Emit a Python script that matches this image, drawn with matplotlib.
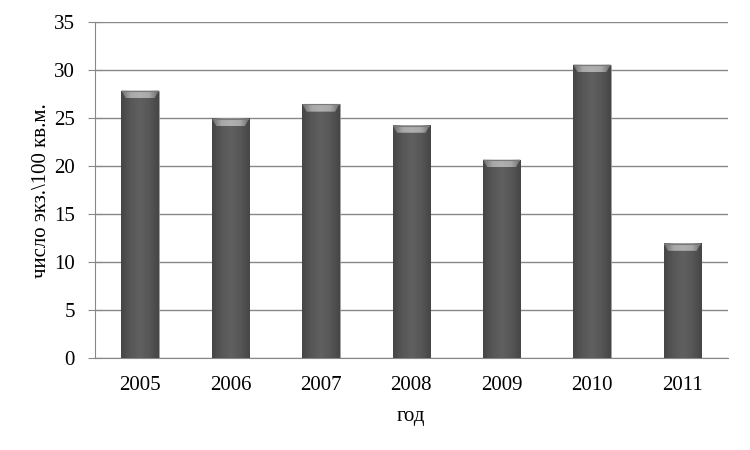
import numpy as np
import matplotlib
matplotlib.use("Agg")
import matplotlib.pyplot as plt
from matplotlib.colors import LinearSegmentedColormap
from matplotlib.patches import Polygon

years = ["2005", "2006", "2007", "2008", "2009", "2010", "2011"]
density = [27.9, 25.0, 26.5, 24.3, 20.7, 30.6, 12.0]

plt.rcParams['font.family'] = ['Liberation Serif', 'DejaVu Serif']

fig = plt.figure(figsize=(7.5, 4.5), dpi=100)
ax = fig.add_axes([0.1267, 0.2037, 0.8433, 0.7466])

x = np.arange(len(years))
bw = 0.415
bars = ax.bar(x, density, width=bw, color='#585858', edgecolor='#a0a0a0', lw=0.5, zorder=2)

# horizontal shading across each bar: darker edges, lighter middle
shade = LinearSegmentedColormap.from_list('shade', ['#464646', '#575757', '#606060', '#575757', '#464646'])
bevel_shade = LinearSegmentedColormap.from_list('bev', ['#6a6a6a', '#a8a8a8', '#b0b0b0', '#a8a8a8', '#6a6a6a'])
grad = np.linspace(0, 1, 64).reshape(1, -1)
bevel_h = 0.8    # height of top bevel in data units
bevel_in = 0.05  # inset of bevel in x
for b in bars:
    x0, w, h = b.get_x(), b.get_width(), b.get_height()
    im = ax.imshow(grad, cmap=shade, aspect='auto', extent=(x0, x0 + w, 0, h), zorder=3)
    im.set_clip_path(b)
    top = Polygon([[x0, h], [x0 + w, h], [x0 + w - bevel_in, h - bevel_h], [x0 + bevel_in, h - bevel_h]],
                  closed=True, facecolor='none', edgecolor='none', zorder=4)
    ax.add_patch(top)
    bim = ax.imshow(grad, cmap=bevel_shade, aspect='auto',
                    extent=(x0, x0 + w, h - bevel_h, h), zorder=4)
    bim.set_clip_path(top)
    ax.plot([x0 + 0.01, x0 + w - 0.01], [h - 0.05, h - 0.05], color='#7a7a7a', lw=0.8, zorder=5)

ax.set_xlim(-0.5, len(years) - 0.5)
ax.set_ylim(0, 35)
ax.set_yticks(range(0, 36, 5))
ax.set_xticks(x)
ax.set_xticklabels(years)
ax.yaxis.grid(True, color='#888888', lw=1)
ax.set_axisbelow(True)

for s in ['top', 'right']:
    ax.spines[s].set_visible(False)
for s in ['left', 'bottom']:
    ax.spines[s].set_color('#888888')
ax.tick_params(axis='y', direction='inout', length=10, color='#888888', labelsize=15, pad=9.5)
ax.tick_params(axis='x', length=0, labelsize=15, pad=12.5)

ax.set_ylabel("число экз.\\100 кв.м.", fontsize=15, labelpad=2)
ax.set_xlabel("год", fontsize=15, labelpad=8.5)

fig.savefig("out.png", dpi=100)
